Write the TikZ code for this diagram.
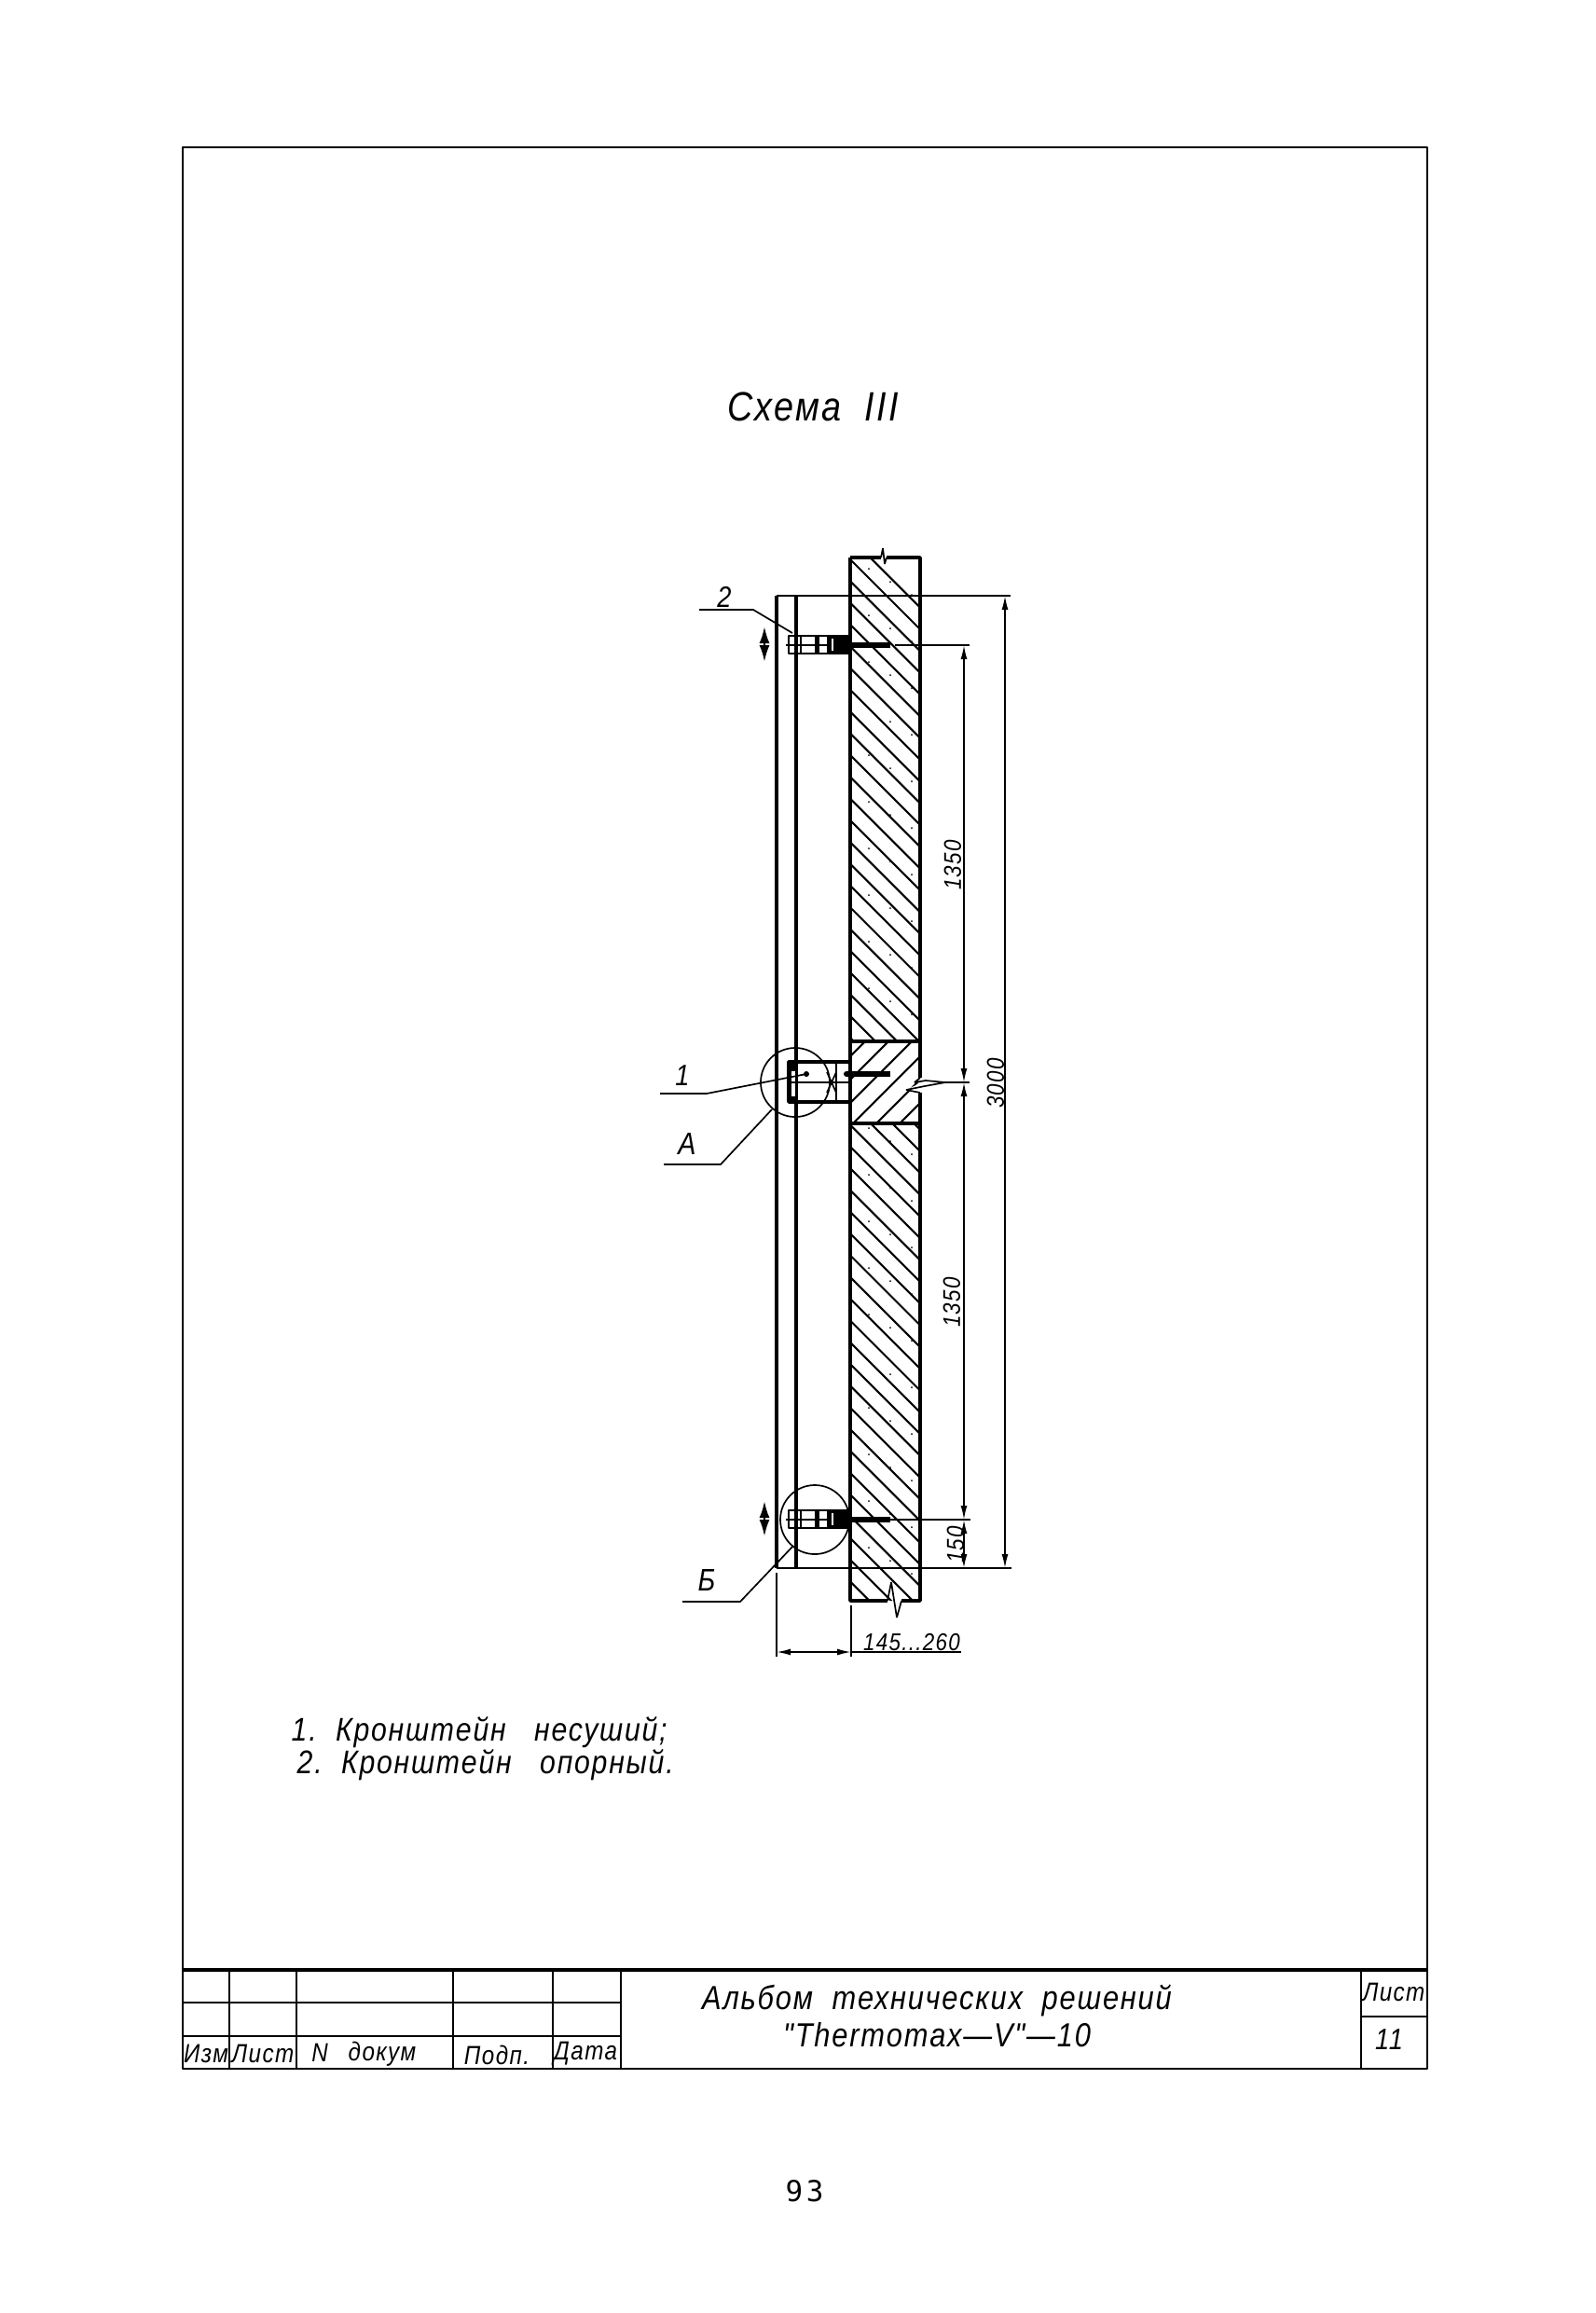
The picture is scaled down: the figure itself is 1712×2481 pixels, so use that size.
\documentclass[tikz,border=0pt]{standalone}
\usepackage{fontspec}
\setmainfont{Liberation Sans}
\newfontfamily\cadfont[LetterSpace=5,FakeStretch=0.86]{Liberation Sans}
\newfontfamily\pagefont[LetterSpace=12]{DejaVu Sans Mono}
\usetikzlibrary{positioning,arrows.meta}
\tikzset{
  mainln/.style={line width=0.8pt,line join=bevel},
  wallln/.style={line width=1pt,line join=bevel},
  boldln/.style={line width=1.2pt,line join=bevel},
  thinln/.style={line width=0.48pt,line join=bevel},
  dimln/.style={line width=0.48pt,{Latex[length=1.5mm,width=0.7mm]}-{Latex[length=1.5mm,width=0.7mm]}},
  movearrow/.style={line width=0.7pt,{Latex[length=1.8mm,width=1.1mm]}-{Latex[length=1.8mm,width=1.1mm]}},
  cadtext/.style={inner sep=0pt,font=\cadfont\itshape\fontsize{#1}{#1}\selectfont},
}
\begin{document}
\begin{tikzpicture}[x=0.01cm,y=-0.01cm]
  \path[use as bounding box] (0,0) rectangle (1712,2481);
  % sheet frame
  \draw[mainln] (196,158) rectangle (1531,2219);
  \draw[line width=1.4pt] (196,2113) -- (1531,2113);
  \draw[mainln] (246,2113) -- (246,2219);
  \draw[mainln] (318,2113) -- (318,2219);
  \draw[mainln] (486,2113) -- (486,2219);
  \draw[mainln] (593,2113) -- (593,2219);
  \draw[mainln] (666,2113) -- (666,2219);
  \draw[mainln] (1460,2113) -- (1460,2219);
  \draw[mainln] (196,2148) -- (666,2148);
  \draw[mainln] (196,2184) -- (666,2184);
  \draw[mainln] (1460,2163) -- (1531,2163);
  \node[cadtext=8pt] (izm) at (221,2203) {Изм};
  \node[cadtext=8pt] (list) at (282,2203) {Лист};
  \node[cadtext=8pt] (nn) at (343,2202) {N};
  \node[cadtext=8pt] (dokum) at (410,2203) {докум};
  \node[cadtext=8pt] (podp) at (533,2204) {Подп.};
  \node[cadtext=8pt] (data) at (628,2203) {Дата};
  \node[cadtext=8pt] (list2) at (1495,2137) {Лист};
  \node[cadtext=9pt] (sheet) at (1490,2188) {11};
  \node[cadtext=10.2pt] (alb1) at (1005,2146) {Альбом\ \ технических\ \ решений};
  \node[cadtext=10.2pt] (alb2) at (1005,2183) {"Thermomax—V"—10};
  \node[cadtext=12.5pt] (title) at (872,436) {Схема\ \ III};
  \node[cadtext=10pt,anchor=base west] (note1) at (312,1867) {1.\ \ Кронштейн\ \ \ несуший;};
  \node[cadtext=10pt,anchor=base west] (note2) at (318,1902) {2.\ \ Кронштейн\ \ \ опорный.};
  \node[inner sep=0pt,font=\pagefont\fontsize{8.8pt}{9pt}\selectfont] (page) at (863,2350) {93};
  % wall hatching
  \begin{scope}
    \clip (912,598) rectangle (987,1117) (912,1205) rectangle (987,1717);
    \foreach \yy in {-24,0,...,1500}
      \draw[line width=0.6pt] (912,600+\yy*0.972) -- (1012,700+\yy*0.972);
    \foreach \yy in {610,660,...,1700} {
      \fill (932,\yy) circle (1);
      \fill (955,\yy+14) circle (1);
      \fill (978,\yy+28) circle (1);
    }
  \end{scope}
  \begin{scope}
    \clip (912,1117) rectangle (987,1205);
    \foreach \ss in {1995,2020,...,2220}
      \draw[line width=0.6pt] (900,\ss-900) -- (1000,\ss-1000);
  \end{scope}
  \fill[white] (987,1156) -- (981,1161) -- (993,1159) -- (972,1169) -- (987,1172) -- (995,1172) -- (995,1156) -- cycle;
  % wall outline
  \draw[wallln] (912,598) -- (912,1717) -- (952,1717);
  \draw[wallln] (967,1717) -- (987,1717) -- (987,1172);
  \draw[wallln] (987,1156) -- (987,598) -- (951,598);
  \draw[wallln] (945,598) -- (912,598);
  \draw[thinln] (951,598) -- (949,605) -- (947,588) -- (945,598);
  \draw[thinln] (952,1717) -- (956,1697) -- (962,1735) -- (967,1717);
  \draw[boldln] (912,1117) -- (987,1117);
  \draw[boldln] (912,1205) -- (987,1205);
  \draw[thinln] (987,1156) -- (981,1161) -- (993,1159) -- (1014,1161) -- (992,1165) -- (972,1169) -- (987,1172);
  % facing panel
  \draw[boldln] (833,639) -- (833,1682);
  \draw[wallln] (854,639) -- (854,1682);
  \draw[mainln] (833,639) -- (854,639);
  \draw[mainln] (833,1682) -- (854,1682);
  % support brackets
  \foreach \yy in {692,1630} {
    \draw[mainln] (846,\yy-10) rectangle (912,\yy+9);
    \draw[thinln] (843,\yy) -- (900,\yy);
    \draw[thinln] (859,\yy-10) -- (859,\yy+9);
    \fill (874,\yy-10) rectangle (879,\yy+9);
    \fill (887,\yy-10) rectangle (912,\yy+9);
    \fill[white] (892,\yy-7) rectangle (894,\yy+6);
    \draw[line width=1.7pt] (912,\yy) -- (955,\yy);
  }
  % load bearing bracket
  \draw[boldln] (846,1139) rectangle (912,1182);
  \fill (846,1139) rectangle (853,1182);
  \fill[white] (849,1149) rectangle (853,1176);
  \draw[thinln] (846,1161) -- (912,1161);
  \draw[mainln] (897,1139) -- (897,1182);
  \draw[thinln] (887,1150) -- (897,1172);
  \draw[thinln] (897,1150) -- (887,1172);
  \fill (908,1152) circle (3);
  \draw[line width=1.5pt] (908,1152) -- (955,1152);
  % move arrows
  \coordinate (mv1a) at (820,672);
  \coordinate (mv1b) at (820,710);
  \coordinate (mv2a) at (820,1610);
  \coordinate (mv2b) at (820,1648);
  \draw[movearrow] (mv1a) -- (mv1b);
  \draw[movearrow] (mv2a) -- (mv2b);
  % view circles and leaders
  \node[draw,thinln,circle,inner sep=0pt,minimum size=0.74cm] (viewa) at (853,1161) {};
  \node[draw,thinln,circle,inner sep=0pt,minimum size=0.74cm] (viewb) at (874,1630) {};
  \node[cadtext=9pt] (lab2) at (777,640) {2};
  \node[cadtext=9pt] (lab1) at (732,1154) {1};
  \node[cadtext=9.5pt] (laba) at (737,1227) {А};
  \node[cadtext=9.5pt] (labb) at (758,1695) {Б};
  \coordinate (ld2a) at (750,654);
  \coordinate (ld2b) at (808,654);
  \coordinate (ld2c) at (850,679);
  \coordinate (ld1a) at (708,1173);
  \coordinate (ld1b) at (758,1173);
  \coordinate (ld1c) at (865,1152);
  \coordinate (ldaa) at (712,1249);
  \coordinate (ldab) at (773,1249);
  \coordinate (ldac) at (828,1190);
  \coordinate (ldba) at (732,1718);
  \coordinate (ldbb) at (794,1718);
  \coordinate (ldbc) at (851,1658);
  \draw[thinln] (ld2a) -- (ld2b) -- (ld2c);
  \draw[thinln] (ld1a) -- (ld1b) -- (ld1c);
  \draw[thinln] (ldaa) -- (ldab) -- (ldac);
  \draw[thinln] (ldba) -- (ldbb) -- (ldbc);
  \fill (ld1c) circle (3);
  % dimensions
  \coordinate (d0a) at (1078,639);
  \coordinate (d0b) at (1078,1682);
  \coordinate (d1a) at (1034,692);
  \coordinate (d1b) at (1034,1161);
  \coordinate (d1c) at (1034,1630);
  \coordinate (d1d) at (1034,1682);
  \coordinate (d2a) at (833,1772);
  \coordinate (d2b) at (913,1772);
  \draw[thinln] (854,639) -- (1084,639);
  \draw[thinln] (854,1682) -- (1085,1682);
  \draw[thinln] (960,692) -- (1040,692);
  \draw[thinln] (1014,1161) -- (1040,1161);
  \draw[thinln] (955,1630) -- (1041,1630);
  \draw[thinln] (833,1687) -- (833,1777);
  \draw[thinln] (913,1722) -- (913,1777);
  \draw[dimln] (d0a) -- (d0b);
  \draw[dimln] (d1a) -- (d1b);
  \draw[dimln] (d1b) -- (d1c);
  \draw[dimln] (d1c) -- (d1d);
  \draw[dimln] (d2a) -- (d2b);
  \draw[thinln] (d2b) -- (1031,1772);
  \node[cadtext=7.4pt,rotate=90] (dim3000) at (1068,1162) {3000};
  \node[cadtext=7.4pt,rotate=90] (dim1350a) at (1022,928) {1350};
  \node[cadtext=7.4pt,rotate=90] (dim1350b) at (1021,1397) {1350};
  \node[cadtext=7.4pt,rotate=90] (dim150) at (1025,1657) {150};
  \node[cadtext=7.4pt] (dim145) at (978,1762) {145...260};
\end{tikzpicture}
\end{document}
